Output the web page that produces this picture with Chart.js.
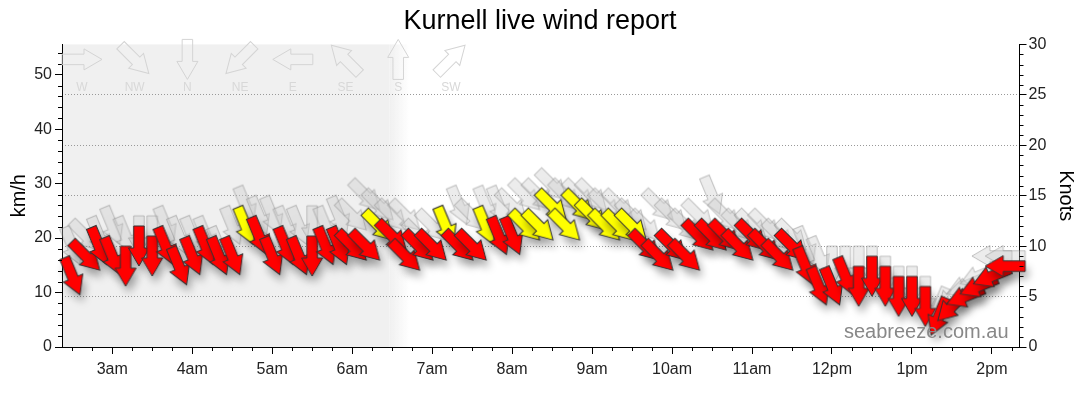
<!DOCTYPE html>
<html>
<head>
<meta charset="utf-8">
<script src="https://cdn.jsdelivr.net/npm/chart.js@4.4.1/dist/chart.umd.min.js"></script>
<style>
html, body { margin: 0; padding: 0; background: #fff; }
#wrap { width: 1080px; height: 414px; position: relative; }
</style>
</head>
<body>
<div id="wrap"><canvas id="windChart"></canvas></div>
<script>
// readings every 10 minutes, speeds in knots, directions = where the wind comes from (deg)
const times = ['02:30','02:40','02:50','03:00','03:10','03:20','03:30','03:40','03:50','04:00',
  '04:10','04:20','04:30','04:40','04:50','05:00','05:10','05:20','05:30','05:40',
  '05:50','06:00','06:10','06:20','06:30','06:40','06:50','07:00','07:10','07:20',
  '07:30','07:40','07:50','08:00','08:10','08:20','08:30','08:40','08:50','09:00',
  '09:10','09:20','09:30','09:40','09:50','10:00','10:10','10:20','10:30','10:40',
  '10:50','11:00','11:10','11:20','11:30','11:40','11:50','12:00','12:10','12:20',
  '12:30','12:40','12:50','13:00','13:10','13:20','13:30','13:40','13:50','14:00','14:10'];

const avgKnots = [9,11,12,11,10,12,11,12,10,11,
  12,11,11,14,13,11,12,11,11,12,
  12,12,12,14,13,11,12,12,14,12,
  12,14,13,13,14,14,16,14,16,15,
  14,14,14,12,11,12,11,13,13,13,
  12,13,12,11,12,10,8,8,9,8,
  9,8,7,7,6,5,6,7,8,9,10];

const avgDir = [337.5,315,337.5,337.5,0,0,0,337.5,337.5,337.5,
  337.5,337.5,337.5,337.5,337.5,337.5,337.5,337.5,0,337.5,
  337.5,315,315,315,315,315,315,315,337.5,315,
  315,337.5,337.5,337.5,315,315,315,315,315,315,
  315,315,315,315,315,315,315,315,315,315,
  315,315,315,315,315,337.5,337.5,337.5,337.5,0,
  0,0,0,0,0,22.5,45,67.5,67.5,67.5,90];

const gustKnots = [12,13,13,14,13,13,13,14,13,13,
  13,12,14,16,15,15,14,14,14,14,
  15,15,17,16,15,15,13,14,14,16,
  15,16,16,16,17,17,18,17,17,17,
  16,16,15,14,16,15,14,15,17,15,
  14,14,14,13,13,12,11,10,10,10,
  10,9,8,8,7,6,7,8,9,11,11];

const gustDir = [337.5,315,337.5,337.5,337.5,0,0,337.5,337.5,337.5,
  337.5,337.5,337.5,337.5,337.5,337.5,337.5,337.5,0,337.5,
  337.5,315,315,315,315,315,315,315,337.5,337.5,
  315,337.5,337.5,315,315,315,315,315,315,315,
  315,315,315,315,315,315,315,315,337.5,315,
  315,315,315,315,315,337.5,337.5,0,0,0,
  0,0,0,0,0,22.5,45,67.5,67.5,90,90];

const hourTicks = [180,240,300,360,420,480,540,600,660,720,780,840];
const hourLabels = ['3am','4am','5am','6am','7am','8am','9am','10am','11am','12pm','1pm','2pm'];
const kmhTicks = [0,10,20,30,40,50];
const knotTicks = [0,5,10,15,20,25,30];
const compassNames = ['W','NW','N','NE','E','SE','S','SW'];
const compassDirs = [270,315,0,45,90,135,180,225];

const axisStart = 142.3, axisEnd = 860.7;   // minutes after midnight
const darkUntil = 388, lightFrom = 403;     // dawn fade
const yellowFrom = 14;                       // knots

const FONT = "'Liberation Sans', Arial, sans-serif";
Chart.defaults.font.family = FONT;

function toMin(t) {
  const p = t.split(':');
  return (+p[0]) * 60 + (+p[1]);
}

function arrowShape(c) {
  const L = 40, sw = 10.5, hw = 21, hl = 18;
  c.beginPath();
  c.moveTo(-sw / 2, -L / 2);
  c.lineTo(sw / 2, -L / 2);
  c.lineTo(sw / 2, L / 2 - hl);
  c.lineTo(hw / 2, L / 2 - hl);
  c.lineTo(0, L / 2);
  c.lineTo(-hw / 2, L / 2 - hl);
  c.lineTo(-sw / 2, L / 2 - hl);
  c.closePath();
}

const looks = {
  red: { fill: '#ff0000', line: '#333', shadow: 'rgba(0,0,0,0.35)' },
  yellow: { fill: '#ffff00', line: '#333', shadow: 'rgba(0,0,0,0.35)' },
  gust: { fill: 'rgba(200,200,200,0.35)', line: 'rgba(140,140,140,0.5)', shadow: 'rgba(0,0,0,0.06)' }
};

const imgCache = {};
function arrowImage(dir, kind) {
  const key = kind + dir;
  if (imgCache[key]) return imgCache[key];
  const cv = document.createElement('canvas');
  cv.width = cv.height = 140;
  const c = cv.getContext('2d');
  const look = looks[kind];
  // the middle of the arrow sits 20px under the reading, then it turns round its middle
  c.translate(70, 90);
  c.rotate(dir * Math.PI / 180);
  arrowShape(c);
  c.shadowColor = look.shadow;
  c.shadowBlur = 8;
  c.shadowOffsetX = 3;
  c.shadowOffsetY = 7;
  c.fillStyle = look.fill;
  c.fill();
  c.shadowColor = 'transparent';
  c.lineWidth = 1;
  c.strokeStyle = look.line;
  c.stroke();
  imgCache[key] = cv;
  return cv;
}

const decor = {
  id: 'decor',
  beforeDraw(chart) {
    const { ctx, chartArea: a, scales } = chart;
    const x1 = scales.x.getPixelForValue(darkUntil);
    const x2 = scales.x.getPixelForValue(lightFrom);
    ctx.save();
    ctx.fillStyle = '#f0f0f0';
    ctx.fillRect(a.left, a.top, x1 - a.left, a.bottom - a.top);
    const g = ctx.createLinearGradient(x1, 0, x2, 0);
    g.addColorStop(0, '#f0f0f0');
    g.addColorStop(1, 'rgba(240,240,240,0)');
    ctx.fillStyle = g;
    ctx.fillRect(x1, a.top, x2 - x1, a.bottom - a.top);
    ctx.restore();
  },
  afterDraw(chart) {
    const { ctx, chartArea: a, scales } = chart;
    ctx.save();
    // minor ticks
    ctx.strokeStyle = '#000';
    ctx.lineWidth = 1;
    ctx.beginPath();
    for (let m = 150; m <= axisEnd; m += 15) {
      if (m % 60 === 0) continue;
      const px = Math.round(scales.x.getPixelForValue(m)) + 0.5;
      ctx.moveTo(px, a.bottom);
      ctx.lineTo(px, a.bottom + 4);
    }
    for (let v = 2; v < 56; v += 2) {
      if (v % 10 === 0) continue;
      const py = Math.round(scales.y.getPixelForValue(v)) + 0.5;
      ctx.moveTo(a.left - 4, py);
      ctx.lineTo(a.left, py);
    }
    for (let v = 1; v < 30; v++) {
      if (v % 5 === 0) continue;
      const py = Math.round(scales.yK.getPixelForValue(v)) + 0.5;
      ctx.moveTo(a.right, py);
      ctx.lineTo(a.right + 4, py);
    }
    ctx.stroke();

    // compass key
    compassNames.forEach((name, k) => {
      const cx = a.left + 20 + k * 52.7;
      ctx.save();
      ctx.translate(cx, a.top + 15);
      ctx.rotate(compassDirs[k] * Math.PI / 180);
      arrowShape(ctx);
      ctx.strokeStyle = '#d4d4d4';
      ctx.stroke();
      ctx.restore();
      ctx.fillStyle = '#d8d8d8';
      ctx.font = '12px ' + FONT;
      ctx.textAlign = 'center';
      ctx.textBaseline = 'middle';
      ctx.fillText(name, cx, a.top + 43);
    });

    // watermark
    ctx.fillStyle = '#888';
    ctx.font = '20px ' + FONT;
    ctx.textAlign = 'right';
    ctx.textBaseline = 'alphabetic';
    ctx.fillText('seabreeze.com.au', a.right - 11, a.bottom - 9);
    ctx.restore();
  }
};

new Chart('windChart', {
  type: 'scatter',
  data: {
    datasets: [
      {
        label: 'Wind',
        data: times.map((t, i) => ({ x: toMin(t), y: avgKnots[i] })),
        yAxisID: 'yK',
        pointRadius: 20,
        clip: false,
        pointStyle: c => c.dataIndex === undefined ? 'circle'
          : arrowImage(avgDir[c.dataIndex], avgKnots[c.dataIndex] >= yellowFrom ? 'yellow' : 'red')
      },
      {
        label: 'Gust',
        data: times.map((t, i) => ({ x: toMin(t), y: gustKnots[i] })),
        yAxisID: 'yK',
        pointRadius: 20,
        clip: false,
        pointStyle: c => c.dataIndex === undefined ? 'circle' : arrowImage(gustDir[c.dataIndex], 'gust')
      }
    ]
  },
  options: {
    responsive: true,
    maintainAspectRatio: false,
    animation: false,
    events: [],
    layout: { padding: 0 },
    plugins: {
      legend: { display: false },
      tooltip: { enabled: false },
      title: {
        display: true,
        text: 'Kurnell live wind report',
        color: '#000',
        font: { size: 27, weight: 'normal' },
        padding: { top: 5, bottom: 7 }
      }
    },
    scales: {
      x: {
        type: 'linear',
        min: axisStart,
        max: axisEnd,
        afterBuildTicks: s => { s.ticks = hourTicks.map(v => ({ value: v })); },
        ticks: {
          autoSkip: false, maxRotation: 0, padding: 6, color: '#222',
          font: { size: 16 },
          callback: v => hourLabels[hourTicks.indexOf(v)]
        },
        grid: { drawOnChartArea: false, tickLength: 7, tickColor: '#000' },
        border: { color: '#000' },
        afterFit: s => { s.height = 67; }
      },
      y: {
        position: 'left',
        min: 0,
        max: 30 * 1.852,
        afterBuildTicks: s => { s.ticks = kmhTicks.map(v => ({ value: v })); },
        ticks: { padding: 3, color: '#222', font: { size: 16 } },
        grid: { drawOnChartArea: false, tickLength: 7, tickColor: '#000' },
        border: { color: '#000' },
        title: { display: true, text: 'km/h', color: '#000', font: { size: 20 }, padding: { top: 7, bottom: 0 } },
        afterFit: s => { s.width = 62; }
      },
      yK: {
        position: 'right',
        min: 0,
        max: 30,
        afterBuildTicks: s => { s.ticks = knotTicks.map(v => ({ value: v })); },
        ticks: { padding: 2, color: '#222', font: { size: 16 } },
        grid: {
          drawOnChartArea: true,
          color: c => (c.tick && c.tick.value > 0 && c.tick.value < 30) ? '#999' : 'transparent',
          tickLength: 7,
          tickColor: '#000'
        },
        border: { color: '#000', dash: [1, 2] },
        title: { display: true, text: 'Knots', color: '#000', font: { size: 20 }, padding: { top: 2, bottom: 0 } },
        afterFit: s => { s.width = 60.5; }
      }
    }
  },
  plugins: [decor]
});
</script>
</body>
</html>
